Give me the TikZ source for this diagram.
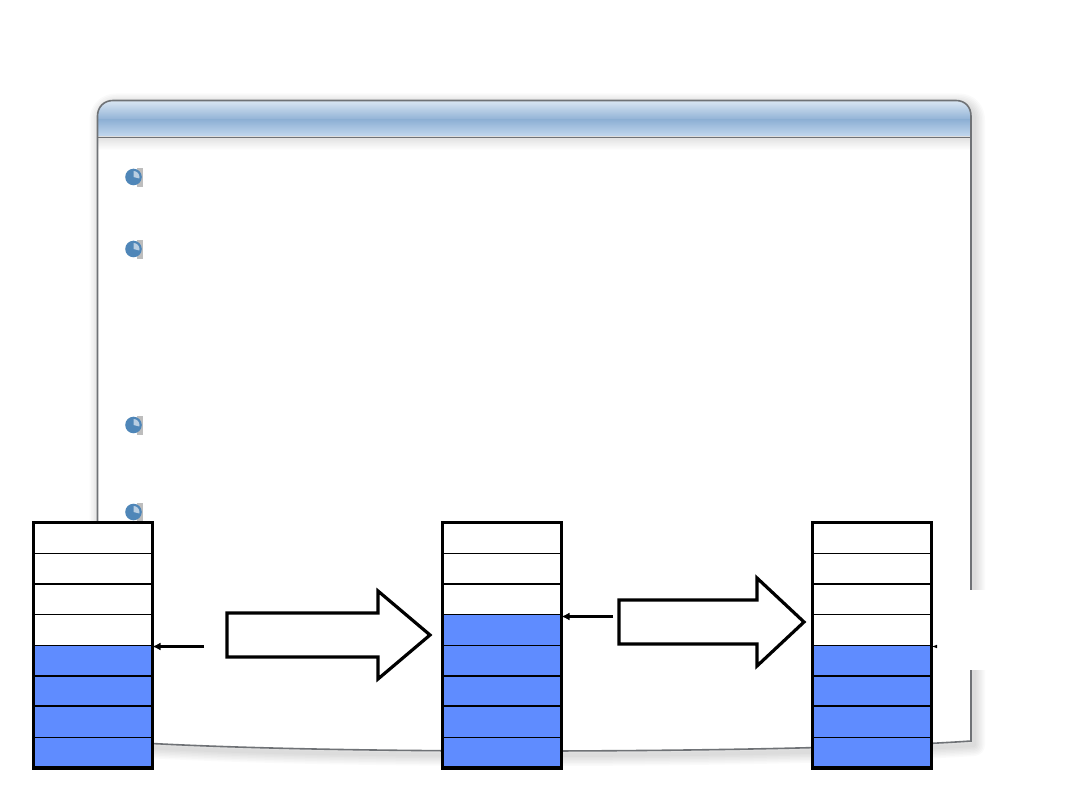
\documentclass[tikz,border=0pt]{standalone}
\usetikzlibrary{arrows.meta,calc}
\definecolor{cellblue}{HTML}{5F8CFF}
\definecolor{hdrtop}{HTML}{DCE8F4}
\definecolor{hdrmid}{HTML}{8FB1D5}
\definecolor{hdrbot}{HTML}{C4D9EF}
\definecolor{winedge}{HTML}{6F7276}
\definecolor{bulletblue}{HTML}{4F86B8}
\definecolor{bulletpale}{HTML}{B9CEE2}
\newcommand{\winpath}{(97.5,116) .. controls (97.5,107) and (104,100.5) .. (113,100.5) -- (956,100.5) .. controls (965,100.5) and (971,107) .. (971,116) -- (971,741) .. controls (800,753) and (300,756) .. (97.5,740) -- cycle}
\newcommand{\bulletmark}[2]{%
  \fill[black!26] (#1+3.5,#2-9) rectangle (#1+9,#2+10);
  \fill[bulletblue] (#1,#2) circle[radius=8.3];
  \fill[bulletpale] (#1,#2) -- (#1,#2-6) .. controls (#1+3.3,#2-6) and (#1+6,#2-3.3) .. (#1+6,#2) -- (#1+5.8,#2+1.5) -- cycle;
}
\newcommand{\cellstack}[3]{%
  % #1 = name, #2 = left x, #3 = colour of the fourth cell
  \foreach \i/\t/\b/\c/\w in {1/522.7/553.3/white/1,2/553.3/583.7/white/1.4,3/583.7/614.7/white/1.7,4/614.7/645.7/#3/1.4,5/645.7/675.7/cellblue/1.4,6/675.7/706.3/cellblue/1.7,7/706.3/737.3/cellblue/1.1,8/737.3/768/cellblue/1.1}{
    \node[cell,fill=\c,minimum height={(\b-\t)*1pt},line width=\w pt] (#1\i) at (#2+59.5,{(\t+\b)/2}) {};
  }
  \node[stackframe] (#1) at (#2+59.5,645.3) {};
}
\tikzset{
  x=1pt,y=-1pt,
  cell/.style={draw=black,rectangle,inner sep=0pt,outer sep=0pt,minimum width=119pt},
  stackframe/.style={draw=black,line width=3.4pt,rectangle,inner sep=0pt,outer sep=0pt,minimum width=119pt,minimum height=245.3pt},
  blockarrow/.style={draw=black,line width=3.2pt,fill=white,miter limit=4},
  pointer/.style={draw=black,line width=2.2pt,-{Latex[length=8pt,width=8pt]}},
}
\begin{document}
\begin{tikzpicture}
\useasboundingbox (0,0) rectangle (1080,810);
\fill[white] (0,0) rectangle (1080,810);
% soft shadow
\begin{scope}[shift={(3,4)}]
\foreach \w in {22,19,16,13,10,7,4}{
  \draw[black,opacity=0.02,line width=\w pt,line join=round] \winpath;
}
\end{scope}
% window
\fill[white] \winpath;
\begin{scope}
\clip \winpath;
\shade[top color=hdrtop,bottom color=hdrmid] (97,100) rectangle (972,120);
\shade[top color=hdrmid,bottom color=hdrbot] (97,120) rectangle (972,137);
\shade[top color=black!12,bottom color=white] (97,137) rectangle (972,150);
\end{scope}
\draw[winedge,line width=1.6pt] (97.5,137.5) -- (971,137.5);
\draw[winedge,line width=1.6pt] \winpath;
% bullets
\bulletmark{133.5}{177}
\bulletmark{133.5}{249}
\bulletmark{133.5}{425}
\bulletmark{133.5}{512}
% white patch over the window edge
\fill[white] (934,590) rectangle (990,670);
% stacks
\cellstack{A}{33.5}{white}
\cellstack{B}{442.5}{cellblue}
\cellstack{C}{812.5}{white}
% block arrows
\draw[blockarrow] (227,613) -- (378,613) -- (378,591) -- (430,635) -- (378,679) -- (378,657) -- (227,657) -- cycle;
\draw[blockarrow] (619,600) -- (757,600) -- (757,578) -- (804,622) -- (757,666) -- (757,644) -- (619,644) -- cycle;
% pointers
\coordinate (pa) at (204,646.5);
\coordinate (pb) at (613,616.5);
\coordinate (pc) at (938,646.5);
\draw[pointer] (pa) -- (A.east |- pa) ;
\draw[pointer] (pb) -- (B.east |- pb);
\fill[black] (932.5,646.5) -- (937,644.8) -- (937,648.2) -- cycle;
\end{tikzpicture}
\end{document}
